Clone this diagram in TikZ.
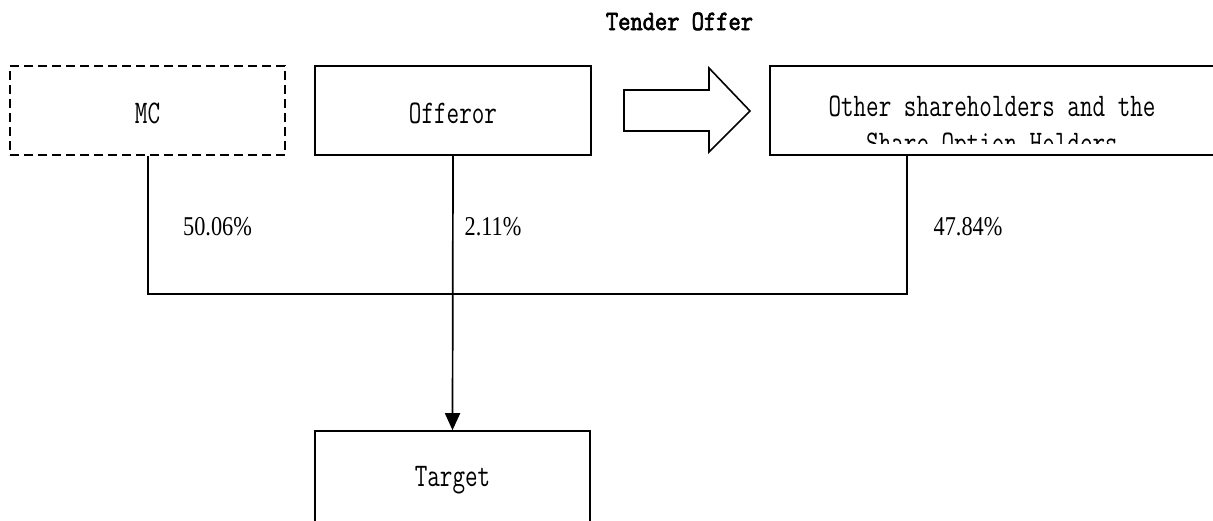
\documentclass[tikz,border=0pt]{standalone}
\usepackage{fontspec}
\setmainfont{Liberation Serif}
\newfontfamily\monof[FakeStretch=0.74]{Latin Modern Mono}
\newfontfamily\monobf[FakeStretch=0.85,FakeBold=2.5]{Latin Modern Mono}
\newfontfamily\pctf[FakeStretch=0.82]{Liberation Serif}
\usetikzlibrary{arrows.meta}
\begin{document}
\begin{tikzpicture}[x=1pt,y=-1pt,
  box/.style={draw, line width=1.6pt, minimum height=89pt, inner sep=0pt},
  dashbox/.style={box, dash pattern=on 9pt off 5pt},
  txt/.style={font=\monof\fontsize{33}{41}\selectfont, anchor=base, inner sep=0pt},
  ttl/.style={font=\monobf\fontsize{28}{34}\selectfont, anchor=base, inner sep=0pt},
  pct/.style={font=\pctf\fontsize{27.2}{32}\selectfont, anchor=base, inner sep=0pt},
  link/.style={line width=1.7pt},
  bigarrow/.style={draw, line width=1.6pt, line join=miter}]
\useasboundingbox (0,0) rectangle (1213,520);
\clip (0,0) rectangle (1213,520);
\fill[white] (0,0) rectangle (1213,520);

% title
\node[ttl] (title) at (679.5,30) {Tender Offer};

% boxes
\node[dashbox, minimum width=275pt] (mc) at (147.5,110.5) {};
\node[box, minimum width=276pt] (off) at (453,110.5) {};
\node[box, minimum width=444pt] (oth) at (992,110.5) {};
\node[box, minimum width=275pt, minimum height=110pt] (tgt) at (452.5,486) {};

% box texts
\node[txt] (mctext) at (147.5,123) {MC};
\node[txt] (offtext) at (453,123) {Offeror};
\node[txt] (tgttext) at (452.5,486) {Target};
\begin{scope}
  \clip (772,68) rectangle (1211,143.5);
  \node[txt] (othtext1) at (992,116) {Other shareholders and the};
  \node[txt] (othtext2) at (992,153) {Share Option Holders};
\end{scope}

% big block arrow
\draw[bigarrow] (624,90) -- (709,90) -- (709,68) -- (750,111) -- (709,152) -- (709,131) -- (624,131) -- cycle;

% connectors
\coordinate (jmc) at (148,294);
\coordinate (joth) at (907,294);
\draw[link] (mc.south -| jmc) -- (jmc) -- (joth) -- (oth.south -| joth);
\draw[link, -{Triangle[length=17pt,width=15pt]}] (off.south) -- (tgt.north);

% percentages
\node[pct] (p1) at (217.5,235) {50.06\%};
\node[pct] (p2) at (493,235) {2.11\%};
\node[pct] (p3) at (968,235) {47.84\%};
\end{tikzpicture}
\end{document}
